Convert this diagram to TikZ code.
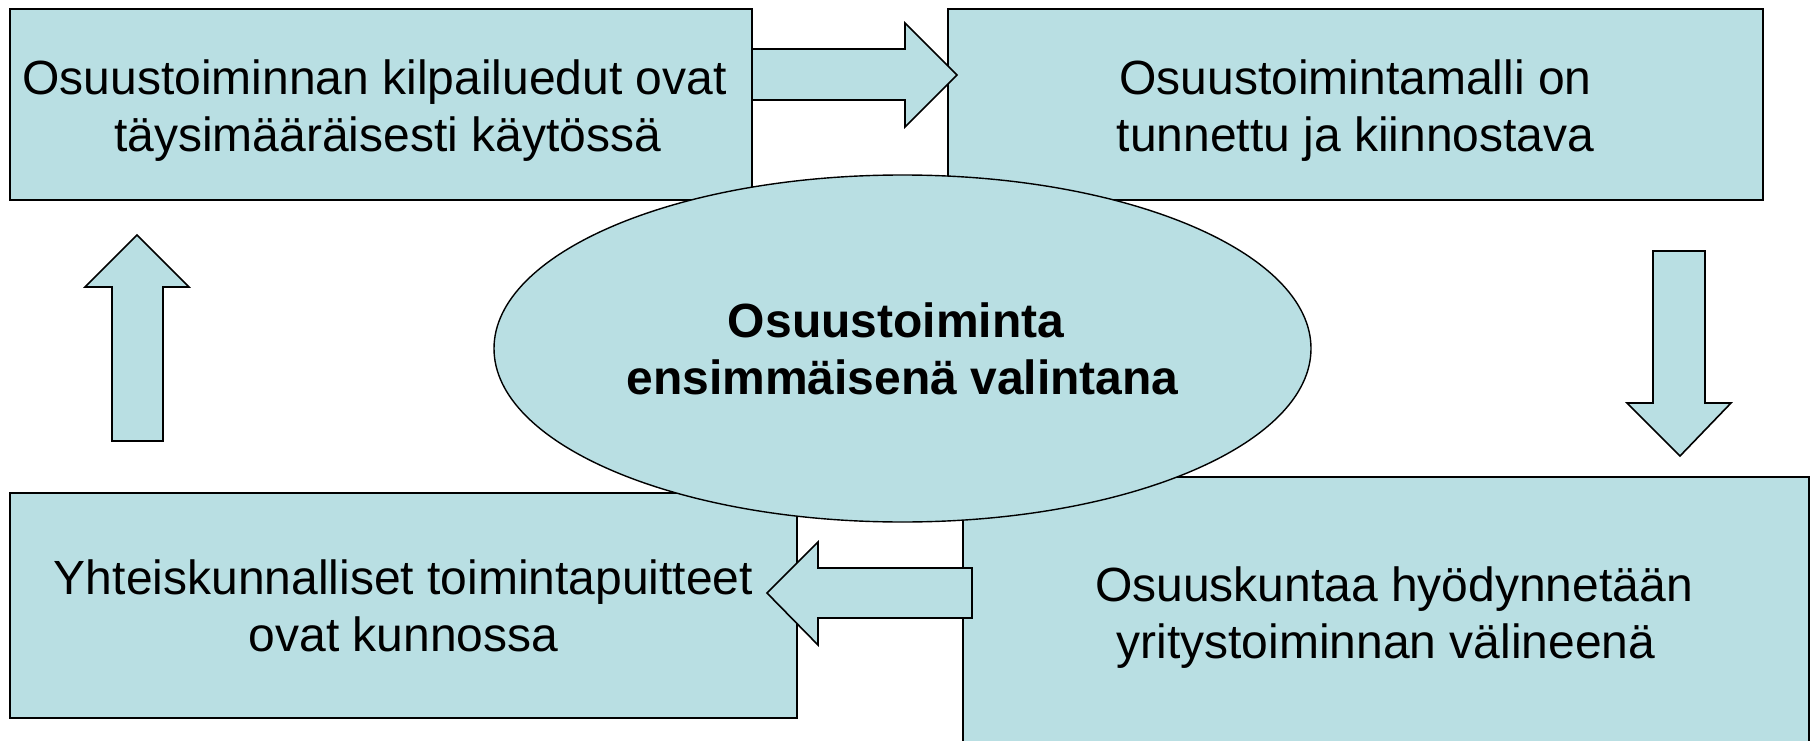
\documentclass[tikz,border=0pt]{standalone}
\usepackage{fontspec}
\setmainfont{Liberation Sans}
\usetikzlibrary{shapes.geometric}
\definecolor{boxfill}{RGB}{185,223,227}
\tikzset{
  box/.style={draw=black, fill=boxfill, line width=1.6pt, rectangle, inner sep=0pt,
    align=center, font=\fontsize{48}{57}\selectfont},
  oval/.style={draw=black, fill=boxfill, line width=1.4pt, ellipse, inner sep=0pt,
    align=center, font=\fontsize{48}{57}\selectfont\bfseries},
  blockarrow/.style={draw=black, fill=boxfill, line width=1.6pt, line join=miter}
}
\begin{document}
\begin{tikzpicture}[x=1pt,y=-1pt]
\useasboundingbox (0,0) rectangle (1816,741);
% boxes
\node[box, minimum width=742pt, minimum height=191pt] (b1) at (381,104.5)
  {\rule{0pt}{46pt}Osuustoiminnan kilpailuedut ovat\rule{13pt}{0pt}\\\rule{13pt}{0pt}täysimääräisesti käytössä};
\node[box, minimum width=815pt, minimum height=191pt] (b2) at (1355.5,104.5)
  {\rule{0pt}{46pt}Osuustoimintamalli on\\tunnettu ja kiinnostava};
\node[box, minimum width=787pt, minimum height=225pt] (b3) at (403.5,605.5)
  {Yhteiskunnalliset toimintapuitteet\\ovat kunnossa};
\node[box, minimum width=846pt, minimum height=266pt] (b4) at (1386,610)
  {\rule{0pt}{49pt}\rule{16pt}{0pt}Osuuskuntaa hyödynnetään\\yritystoiminnan välineenä};
% centre ellipse
\node[oval, minimum width=817pt, minimum height=347pt] (c) at (902.5,348.5)
  {Osuustoiminta\rule{13pt}{0pt}\\ensimmäisenä valintana};
% block arrows
\draw[blockarrow] (752,49) -- (905,49) -- (905,23) -- (957,75) -- (905,127) -- (905,100) -- (752,100) -- cycle;
\draw[blockarrow] (1653,251) -- (1705,251) -- (1705,403) -- (1731,403) -- (1680,456) -- (1627,403) -- (1653,403) -- cycle;
\draw[blockarrow] (972,568) -- (818,568) -- (818,542) -- (767,593) -- (818,645) -- (818,618) -- (972,618) -- cycle;
\draw[blockarrow] (112,441) -- (112,287) -- (85,287) -- (137,235) -- (189,287) -- (163,287) -- (163,441) -- cycle;
\end{tikzpicture}
\end{document}
